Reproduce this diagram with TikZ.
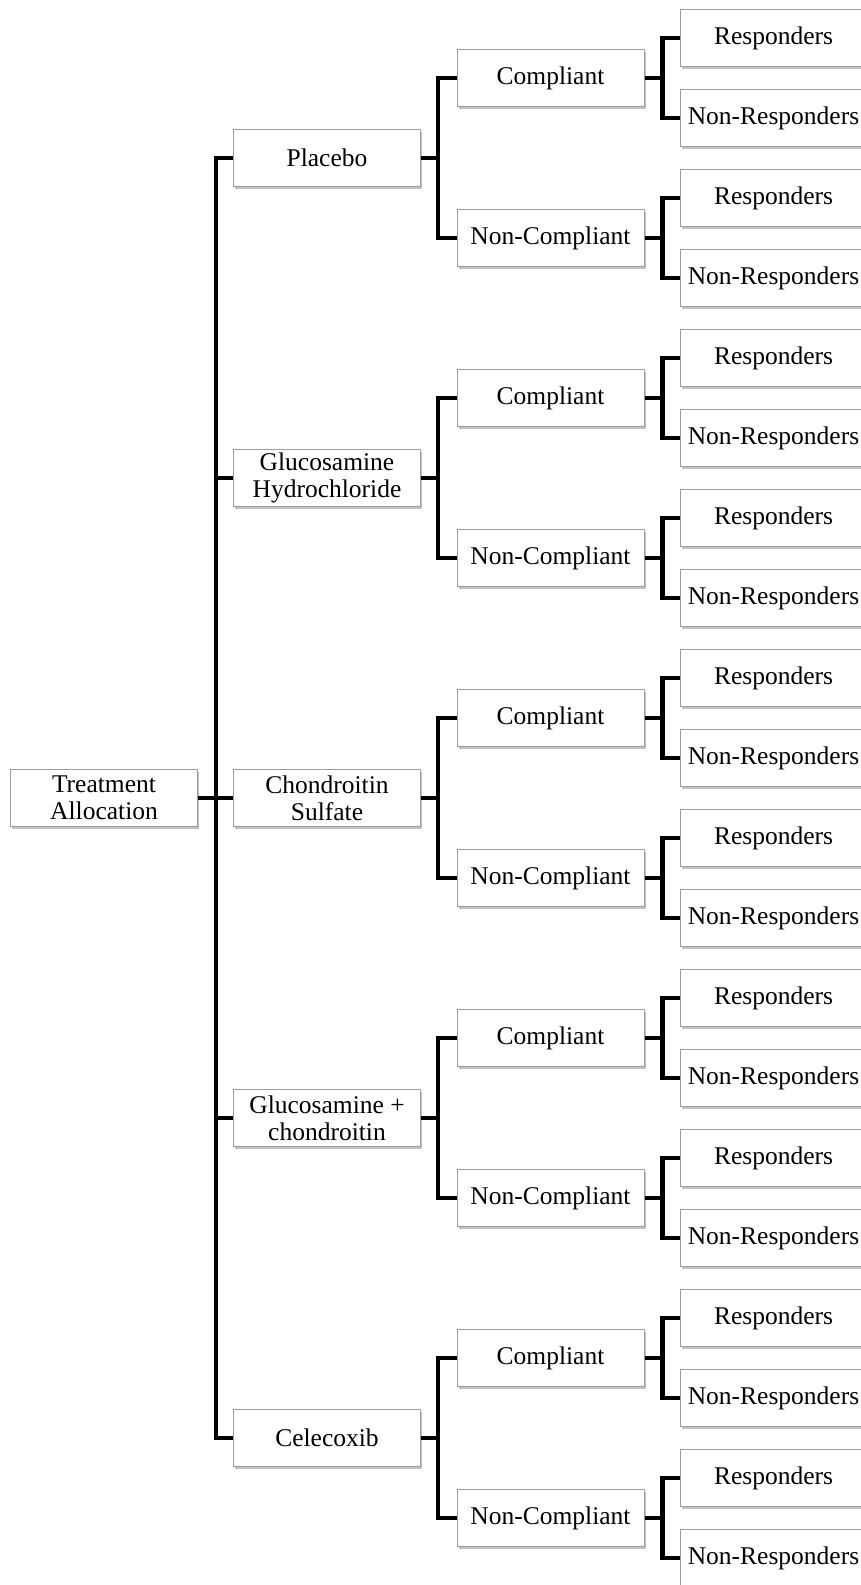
\documentclass[tikz,border=0pt]{standalone}
\usepackage{fontspec}
\setmainfont{Liberation Serif}
\usetikzlibrary{shadows}
\tikzset{
  box/.style={draw=black!38, line width=1pt, fill=white, text=black,
    minimum width=187pt, minimum height=57pt, inner sep=0pt, align=center,
    font=\fontsize{25.5}{27}\selectfont,
    drop shadow={shadow xshift=1.5pt, shadow yshift=-2.5pt, fill=black!30, opacity=0.8}},
  conn/.style={line width=4.5pt, line join=miter, black}
}
\begin{document}
\begin{tikzpicture}[x=1pt,y=-1pt]
\path[use as bounding box, clip] (0,0) rectangle (861,1585);
\fill[white] (0,0) rectangle (861,1585);
% root
\node[box] (root) at (104,798) {Treatment\\Allocation};
% treatment arms
\foreach \i/\txt in {0/Placebo,1/{Glucosamine\\Hydrochloride},2/{Chondroitin\\Sulfate},3/{Glucosamine +\\chondroitin},4/Celecoxib}{
  \node[box] (t\i) at (327,{158+320*\i}) {\txt};
  \draw[conn] (root.east) -- ++(18,0) |- (t\i.west);
}
% compliance
\foreach \j in {0,...,9}{
  \pgfmathtruncatemacro\p{int(\j/2)}
  \pgfmathtruncatemacro\odd{mod(\j,2)}
  \node[box] (c\j) at (550.5,{78+160*\j}) {\ifnum\odd=0 Compliant\else Non-Compliant\fi};
  \draw[conn] (t\p.east) -- ++(17,0) |- (c\j.west);
}
% response
\foreach \k in {0,...,19}{
  \pgfmathtruncatemacro\q{int(\k/2)}
  \pgfmathtruncatemacro\odd{mod(\k,2)}
  \node[box] (r\k) at (773.5,{38+80*\k}) {\ifnum\odd=0 Responders\else Non-Responders\fi};
  \draw[conn] (c\q.east) -- ++(18,0) |- (r\k.west);
}
\end{tikzpicture}
\end{document}
